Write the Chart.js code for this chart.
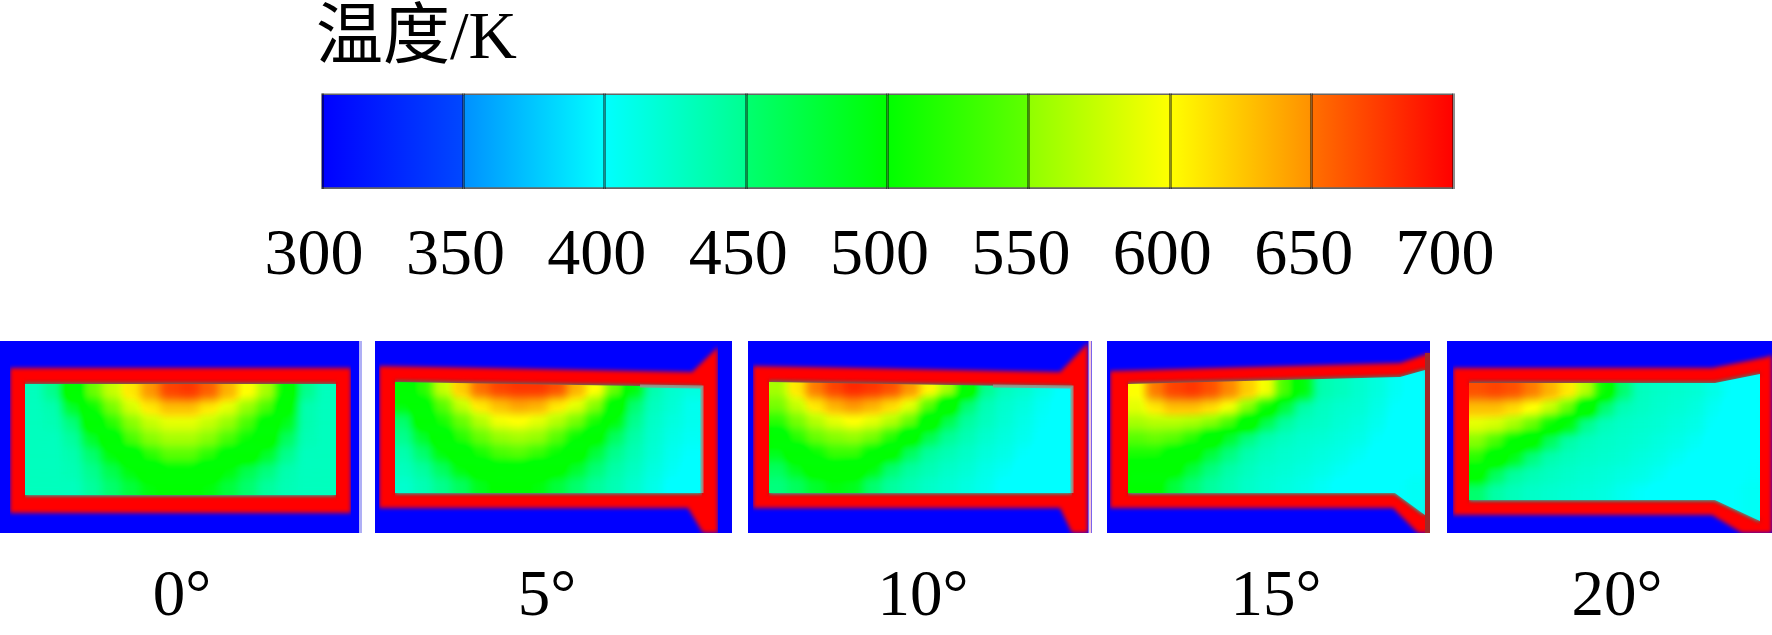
<!DOCTYPE html>
<html>
<head>
<meta charset="utf-8">
<title>温度</title>
<script src="https://cdn.jsdelivr.net/npm/chart.js@4"></script>
<style>
    html, body { margin: 0; padding: 0; background: #fff; }
    body { position: relative; width: 1772px; height: 635px; overflow: hidden; }
    canvas { position: absolute; display: block; }
    #bar { left: 0; top: 0; }
    #p0 { left: 0; top: 341px; }
    #p1 { left: 375px; top: 341px; }
    #p2 { left: 748px; top: 341px; }
    #p3 { left: 1107px; top: 341px; }
    #p4 { left: 1447px; top: 341px; }
</style>
</head>
<body>
<canvas id="bar" width="1772" height="300"></canvas>
<canvas id="p0" width="362" height="294"></canvas>
<canvas id="p1" width="357" height="294"></canvas>
<canvas id="p2" width="344" height="294"></canvas>
<canvas id="p3" width="323" height="294"></canvas>
<canvas id="p4" width="325" height="294"></canvas>
<script>
const barTitle = "温度/K";
const barTicks = [300, 350, 400, 450, 500, 550, 600, 650, 700];
const bandStartColors = ["#0000ff", "#0090ff", "#00ffff", "#00ff70", "#00ff00", "#90ff00", "#ffff00", "#ff7000"];
const bandEndColors = ["#0048ff", "#00ffff", "#00ff90", "#00ff00", "#60ff00", "#ffff00", "#ff9000", "#ff0000"];

const rampValues = [300, 400, 500, 600, 700];
const rampColors = [[0, 0, 255], [0, 255, 255], [0, 255, 0], [255, 255, 0], [255, 0, 0]];

const angleLabels = ["0°", "5°", "10°", "15°", "20°"];
const angleLabelX = [182, 172, 175, 169, 170];
const panelWidths = [362, 357, 344, 323, 325];

// nozzle walls, one list per wall, [x, y] in panel units
const outerTop = [
    [[10, 27], [351, 27]],
    [[4, 25], [317, 31], [343, 6]],
    [[5, 25], [312, 31], [340, 2]],
    [[3, 30], [293, 22], [323, 12]],
    [[6, 27], [265, 27], [320, 16], [325, 14]]
];
const outerBottom = [
    [[10, 172], [351, 172]],
    [[4, 167], [313, 167], [328, 192], [343, 192]],
    [[5, 167], [312, 167], [324, 192], [340, 192]],
    [[3, 167], [286, 167], [311, 192], [323, 192]],
    [[6, 174], [265, 174], [295, 192], [325, 192]]
];
const innerTop = [
    [[25, 43], [336, 43]],
    [[20, 41], [327, 46]],
    [[21, 41], [324, 46]],
    [[21, 43], [293, 36], [318, 29]],
    [[22, 42], [268, 42], [313, 33]]
];
const innerBottom = [
    [[25, 154], [336, 154]],
    [[20, 152], [327, 152]],
    [[21, 152], [324, 152]],
    [[21, 152], [288, 152], [318, 174]],
    [[22, 159], [268, 159], [313, 180]]
];
const outletEdge = [
    [],
    [[265, 45], [327, 46], [327, 152]],
    [[245, 45], [324, 46], [324, 152]],
    [[320.5, 12], [320.5, 192]],
    []
];
const outletColors = ["transparent", "rgba(150,150,140,0.9)", "rgba(150,150,140,0.9)", "rgb(160,40,40)", "transparent"];
const seamEdge = [[[360.5, 0], [360.5, 192]], [], [[342, 0], [342, 192]], [], []];
const seamColors = ["rgb(175,175,245)", "transparent", "rgb(245,200,215)", "transparent", "transparent"];

// temperature, rows top to bottom
const field0 = [
    [425, 440, 500, 550, 580, 610, 640, 670, 675, 660, 630, 600, 570, 515, 440, 425],
    [425, 430, 470, 520, 555, 585, 610, 625, 625, 610, 590, 565, 540, 490, 430, 425],
    [425, 428, 445, 495, 530, 560, 580, 590, 590, 580, 565, 540, 510, 475, 430, 425],
    [425, 425, 435, 470, 505, 540, 560, 570, 570, 560, 540, 520, 495, 455, 428, 425],
    [425, 425, 430, 450, 480, 505, 530, 545, 545, 530, 510, 495, 470, 440, 425, 425],
    [425, 425, 428, 440, 460, 480, 500, 515, 515, 500, 480, 460, 445, 430, 425, 425],
    [425, 425, 425, 435, 450, 465, 480, 490, 490, 480, 465, 450, 435, 428, 425, 425]
];
const field5 = [
    [500, 530, 580, 620, 655, 670, 675, 675, 665, 630, 600, 550, 480, 430, 420, 415],
    [480, 510, 545, 580, 610, 625, 635, 630, 610, 590, 560, 510, 450, 425, 418, 410],
    [450, 495, 525, 550, 575, 595, 600, 590, 575, 555, 525, 480, 440, 422, 415, 410],
    [440, 470, 505, 530, 550, 565, 570, 565, 545, 520, 490, 455, 432, 420, 412, 408],
    [430, 450, 480, 505, 525, 540, 545, 535, 520, 495, 465, 440, 428, 418, 410, 405],
    [425, 435, 455, 480, 495, 510, 510, 500, 490, 470, 448, 432, 424, 415, 408, 402],
    [420, 428, 440, 455, 475, 488, 490, 480, 465, 450, 436, 428, 420, 412, 404, 400]
];
const field10 = [
    [570, 610, 650, 670, 680, 675, 665, 640, 605, 570, 510, 440, 425, 420, 412, 405],
    [555, 580, 610, 630, 640, 630, 615, 590, 545, 500, 450, 428, 420, 415, 408, 402],
    [530, 555, 575, 590, 600, 590, 575, 550, 505, 460, 435, 425, 418, 412, 406, 402],
    [500, 530, 550, 560, 565, 555, 530, 495, 460, 438, 428, 420, 415, 410, 404, 400],
    [475, 500, 520, 535, 535, 515, 490, 455, 435, 428, 422, 416, 412, 406, 402, 400],
    [455, 475, 495, 505, 500, 480, 450, 435, 428, 422, 418, 412, 408, 402, 400, 400],
    [445, 455, 470, 480, 475, 450, 435, 428, 422, 418, 414, 410, 404, 400, 400, 402]
];
const field15 = [
    [600, 650, 670, 675, 665, 645, 620, 595, 540, 480, 430, 425, 420, 415, 408, 402],
    [590, 610, 625, 625, 615, 595, 560, 520, 465, 432, 424, 420, 418, 412, 405, 400],
    [570, 575, 575, 570, 560, 540, 505, 460, 435, 425, 422, 418, 415, 410, 403, 400],
    [545, 550, 545, 530, 505, 470, 445, 430, 424, 420, 418, 415, 412, 406, 401, 400],
    [525, 525, 510, 490, 465, 445, 430, 424, 420, 418, 415, 412, 408, 403, 400, 402],
    [505, 500, 490, 465, 445, 432, 425, 420, 418, 415, 412, 408, 404, 400, 402, 405],
    [495, 490, 465, 448, 435, 428, 422, 418, 415, 412, 408, 403, 400, 402, 405, 408]
];
const field20 = [
    [665, 670, 665, 650, 630, 610, 575, 520, 450, 425, 422, 420, 418, 412, 405, 402],
    [625, 625, 615, 600, 580, 550, 500, 450, 428, 423, 420, 418, 415, 408, 402, 400],
    [590, 585, 570, 550, 520, 480, 440, 426, 422, 420, 418, 415, 412, 405, 400, 400],
    [560, 540, 515, 490, 455, 432, 425, 422, 420, 418, 415, 412, 408, 402, 400, 402],
    [530, 505, 475, 445, 430, 425, 422, 420, 418, 415, 412, 408, 404, 400, 402, 405],
    [490, 455, 435, 428, 424, 421, 419, 417, 414, 412, 408, 403, 400, 400, 403, 406],
    [450, 432, 426, 422, 420, 418, 416, 414, 410, 406, 402, 400, 400, 402, 405, 408]
];
const fields = [field0, field5, field10, field15, field20];

function tempColor(t) {
    let i = 0;
    while (i < rampValues.length - 2 && t > rampValues[i + 1]) i++;
    const f = (t - rampValues[i]) / (rampValues[i + 1] - rampValues[i]);
    const c = rampColors[i].map((v, k) => Math.round(v + (rampColors[i + 1][k] - v) * f));
    return `rgb(${c[0]},${c[1]},${c[2]})`;
}

function toPoints(list) {
    return list.map(p => ({ x: p[0], y: p[1] }));
}

function wall(list, fill, color, edge) {
    return {
        type: "line",
        data: toPoints(list),
        fill: fill,
        backgroundColor: color,
        borderColor: edge || "transparent",
        borderWidth: edge ? 3 : 0,
        pointRadius: 0,
        tension: 0
    };
}

function edgeLine(list, color, width) {
    return { ...wall(list, false, "transparent", color), borderWidth: width, order: -1 };
}

// soft look of the scanned contours: walls blur a little, the field as one image inside the duct
const softPanel = {
    id: "softPanel",
    afterDatasetDraw(chart, args) {
        if (args.index === 5) chart.ctx.filter = "blur(2px)";
    },
    afterDatasetsDraw(chart) {
        chart.ctx.filter = "none";
    },
    beforeDatasetDraw(chart, args) {
        if (args.index === 7) chart.ctx.filter = "none";
        if (args.index !== 0) return;
        const off = document.createElement("canvas");
        off.width = chart.width;
        off.height = chart.height;
        const offCtx = off.getContext("2d");
        args.meta.data.forEach(el => el.draw(offCtx));

        const ctx = chart.ctx;
        const top = chart.getDatasetMeta(1).data;
        const bottom = chart.getDatasetMeta(2).data;
        ctx.save();
        ctx.beginPath();
        top.forEach((p, i) => (i ? ctx.lineTo(p.x, p.y) : ctx.moveTo(p.x, p.y)));
        [...bottom].reverse().forEach(p => ctx.lineTo(p.x, p.y));
        ctx.closePath();
        ctx.clip();
        ctx.filter = "blur(5px) saturate(1.3)";
        ctx.drawImage(off, 0, 0);
        ctx.restore();
        return false;
    }
};

function drawPanel(i) {
    const rows = fields[i];
    const nCols = rows[0].length;
    const left = innerTop[i][0][0];
    const right = innerTop[i][innerTop[i].length - 1][0];
    const top = innerTop[i][0][1];
    const bottom = innerBottom[i][0][1];
    const cellW = (right - left) / nCols;
    const cellH = (bottom - top) / rows.length;

    // outermost cells repeat past the duct so the blur has no empty edge
    const cells = [];
    const colors = [];
    for (let r = -3; r < rows.length + 3; r++) {
        const row = rows[Math.min(Math.max(r, 0), rows.length - 1)];
        for (let c = -3; c < nCols + 3; c++) {
            cells.push({ x: left + (c + 0.5) * cellW, y: [top + r * cellH, top + (r + 1) * cellH] });
            colors.push(tempColor(row[Math.min(Math.max(c, 0), nCols - 1)]));
        }
    }

    new Chart(document.getElementById("p" + i), {
        type: "bar",
        data: {
            datasets: [
                { data: cells, backgroundColor: colors, categoryPercentage: 1, barPercentage: 1.1 },
                wall(innerTop[i], "+1", "#00ffe6", "rgba(120,30,30,0.8)"),
                wall(innerBottom[i], false, "transparent", "rgba(120,30,30,0.8)"),
                wall(outerTop[i], "+1", "#ff0000"),
                wall(outerBottom[i], false, "transparent"),
                wall([[0, 0], [panelWidths[i], 0]], "start", "#0000ff"),
                edgeLine(outletEdge[i], outletColors[i], i === 3 ? 5 : 3),
                edgeLine(seamEdge[i], seamColors[i], 3)
            ]
        },
        options: {
            responsive: false,
            animation: false,
            devicePixelRatio: 1,
            events: [],
            plugins: { legend: { display: false }, tooltip: { enabled: false } },
            scales: {
                x: {
                    type: "linear",
                    offset: false,
                    min: 0,
                    max: panelWidths[i],
                    grid: { display: false },
                    border: { display: false },
                    afterBuildTicks: s => { s.ticks = [{ value: angleLabelX[i] }]; },
                    afterFit: s => { s.height = 102; },
                    ticks: {
                        autoSkip: false,
                        maxRotation: 0,
                        padding: 18,
                        color: "#000",
                        font: { family: "'Liberation Serif'", size: 65 },
                        callback: () => angleLabels[i]
                    }
                },
                y: { type: "linear", display: false, reverse: true, min: 0, max: 192 }
            }
        },
        plugins: [softPanel]
    });
}

function drawBar() {
    const bands = bandStartColors.map((c, i) => ({
        data: [[barTicks[i], barTicks[i + 1]]],
        grouped: false,
        categoryPercentage: 1,
        barPercentage: 1,
        borderColor: "rgba(0,0,0,0.6)",
        borderWidth: { top: 2, bottom: 2, left: 0, right: 0 },
        borderSkipped: false,
        backgroundColor: ({ chart }) => {
            const a = chart.scales.x.getPixelForValue(barTicks[i]);
            const b = chart.scales.x.getPixelForValue(barTicks[i + 1]);
            if (!Number.isFinite(a) || !Number.isFinite(b)) return c;
            const g = chart.ctx.createLinearGradient(a, 0, b, 0);
            g.addColorStop(0, c);
            g.addColorStop(1, bandEndColors[i]);
            return g;
        }
    }));

    const chart = new Chart(document.getElementById("bar"), {
        type: "bar",
        data: { labels: [barTitle], datasets: bands },
        options: {
            indexAxis: "y",
            responsive: false,
            animation: false,
            devicePixelRatio: 1,
            events: [],
            layout: { padding: { left: 316, right: 319 } },
            plugins: {
                legend: { display: false },
                tooltip: { enabled: false },
                title: {
                    display: true,
                    text: barTitle,
                    align: "start",
                    color: "#000",
                    padding: { top: 0, bottom: 13 },
                    font: { family: "'Liberation Serif','Noto Sans CJK SC'", size: 67, weight: "normal" }
                }
            },
            scales: {
                x: {
                    type: "linear",
                    min: barTicks[0],
                    max: barTicks[barTicks.length - 1],
                    border: { display: false },
                    grid: { color: "rgba(0,0,0,0.45)", lineWidth: 3, drawTicks: false, z: 1 },
                    afterBuildTicks: s => { s.ticks = barTicks.map(v => ({ value: v })); },
                    afterFit: s => { s.height = 111; },
                    ticks: {
                        autoSkip: false,
                        maxRotation: 0,
                        padding: 28,
                        labelOffset: -8,
                        color: "#000",
                        font: { family: "'Liberation Serif'", size: 66 }
                    }
                },
                y: {
                    grid: { display: false },
                    border: { display: false },
                    ticks: { display: false },
                    afterFit: s => { s.width = 6; }
                }
            }
        }
    });
    chart.update();
}

drawBar();
fields.forEach((f, i) => drawPanel(i));
</script>
</body>
</html>
